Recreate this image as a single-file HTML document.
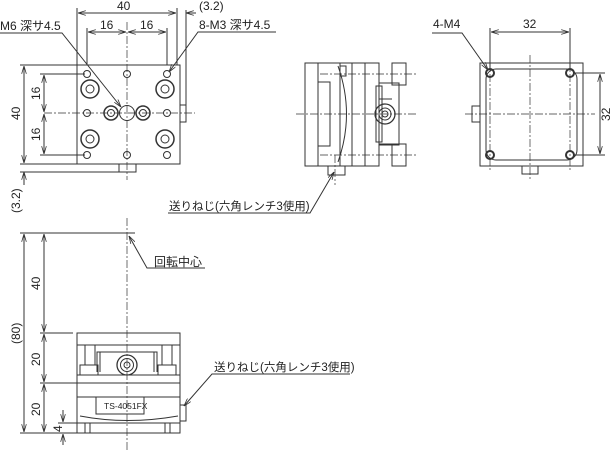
<!DOCTYPE html>
<html><head><meta charset="utf-8"><style>
html,body{margin:0;padding:0;background:#fff;width:616px;height:450px;overflow:hidden}
text{font-family:"Liberation Sans","Noto Sans CJK JP",sans-serif;fill:#222}
</style></head><body>
<svg width="616" height="450" viewBox="0 0 616 450" xmlns="http://www.w3.org/2000/svg">
<defs>
<marker id="a" viewBox="0 0 10 6" refX="10" refY="3" markerWidth="8" markerHeight="5" orient="auto-start-reverse"><path d="M0,0 L10,3 L0,6" fill="none" stroke="#333" stroke-width="1"/></marker>
</defs>
<g stroke="#333" stroke-width="1" fill="none">
<rect x="77" y="65" width="103" height="99"/>
<rect x="180" y="105" width="6" height="17"/>
<rect x="119" y="164" width="17" height="8"/>
<line x1="186" y1="10" x2="186" y2="105"/>
<line x1="177" y1="8" x2="177" y2="65"/>
<line x1="77" y1="8" x2="77" y2="65"/>
<line x1="78" y1="13" x2="176" y2="13" marker-start="url(#a)" marker-end="url(#a)"/>
<line x1="186" y1="13" x2="196" y2="13" marker-start="url(#a)"/>
<line x1="87" y1="28" x2="87" y2="65"/><line x1="167" y1="28" x2="167" y2="65"/>
<line x1="88" y1="32" x2="126" y2="32" marker-start="url(#a)" marker-end="url(#a)"/>
<line x1="128" y1="32" x2="166" y2="32" marker-start="url(#a)" marker-end="url(#a)"/>
<g>
<circle cx="87" cy="74" r="3.5"/><circle cx="127" cy="74" r="3.5"/><circle cx="167" cy="74" r="3.5"/>
<circle cx="87" cy="113" r="3.5"/><circle cx="167" cy="113" r="3.5"/>
<circle cx="87" cy="155" r="3.5"/><circle cx="127" cy="155" r="3.5"/><circle cx="167" cy="155" r="3.5"/>
<circle cx="90" cy="89" r="9" stroke-width="1.5"/><circle cx="90" cy="89" r="4"/>
<circle cx="165" cy="89" r="9" stroke-width="1.5"/><circle cx="165" cy="89" r="4"/>
<circle cx="90" cy="139" r="9" stroke-width="1.5"/><circle cx="90" cy="139" r="4"/>
<circle cx="165" cy="139" r="9" stroke-width="1.5"/><circle cx="165" cy="139" r="4"/>
<circle cx="111" cy="113" r="7" stroke-width="1.5"/><circle cx="111" cy="113" r="3.5"/>
<circle cx="143" cy="113" r="7" stroke-width="1.5"/><circle cx="143" cy="113" r="3.5"/>
<circle cx="127" cy="113" r="7.5"/>
</g>
<g stroke-dasharray="8,2,2,2" stroke-width="0.7">
<line x1="127" y1="22" x2="127" y2="180"/>
<line x1="44" y1="113" x2="195" y2="113"/>
</g>
<line x1="20" y1="65" x2="77" y2="65"/>
<line x1="20" y1="164" x2="77" y2="164"/>
<line x1="20" y1="172" x2="119" y2="172"/>
<line x1="40" y1="74" x2="85" y2="74"/><line x1="40" y1="155" x2="85" y2="155"/>
<line x1="24" y1="66" x2="24" y2="163" marker-start="url(#a)" marker-end="url(#a)"/>
<line x1="44" y1="75" x2="44" y2="112" marker-start="url(#a)" marker-end="url(#a)"/>
<line x1="44" y1="114" x2="44" y2="154" marker-start="url(#a)" marker-end="url(#a)"/>
<line x1="24" y1="172" x2="24" y2="185" marker-start="url(#a)"/>
<polyline points="0,33 62,33 121,107" marker-end="url(#a)"/>
<polyline points="276,32 198,32 169,72" marker-end="url(#a)"/>

<rect x="305" y="63" width="74" height="103"/>
<line x1="318" y1="63" x2="318" y2="166"/><line x1="340" y1="63" x2="340" y2="166"/>
<line x1="352" y1="63" x2="352" y2="166"/><line x1="365" y1="63" x2="365" y2="166"/>
<rect x="318" y="82" width="12" height="64"/>
<path d="M338,66 Q355,114 338,162"/>
<rect x="340" y="66" width="6" height="10"/>
<rect x="379" y="83" width="20" height="62"/>
<line x1="379" y1="99" x2="392" y2="99"/><line x1="379" y1="144" x2="392" y2="144"/>
<rect x="392" y="63" width="14" height="22"/><rect x="392" y="144" width="14" height="22"/>
<rect x="376" y="86" width="6" height="56"/>
<circle cx="385" cy="114" r="10" stroke-width="1.3"/><circle cx="385" cy="114" r="6"/><circle cx="385" cy="114" r="3"/>
<rect x="328" y="166" width="17" height="9"/>
<g stroke-dasharray="8,2,2,2" stroke-width="0.7">
<line x1="296" y1="114" x2="416" y2="114"/>
<line x1="320" y1="74" x2="416" y2="74"/><line x1="320" y1="155" x2="416" y2="155"/>
<line x1="335" y1="155" x2="335" y2="185"/>
</g>
<polyline points="168,213 310,213 334,172" marker-end="url(#a)"/>

<rect x="480" y="63" width="103" height="103"/>
<rect x="486" y="69" width="91" height="91" rx="10"/>
<rect x="472" y="106" width="8" height="16"/>
<rect x="522" y="166" width="16" height="8"/>
<circle cx="490" cy="73" r="4" stroke-width="2"/><circle cx="570" cy="73" r="4" stroke-width="2"/>
<circle cx="490" cy="155" r="4" stroke-width="2"/><circle cx="570" cy="155" r="4" stroke-width="2"/>
<line x1="490" y1="28" x2="490" y2="70"/><line x1="570" y1="28" x2="570" y2="70"/>
<line x1="491" y1="32" x2="569" y2="32" marker-start="url(#a)" marker-end="url(#a)"/>
<line x1="573" y1="73" x2="605" y2="73"/><line x1="573" y1="155" x2="605" y2="155"/>
<line x1="600" y1="74" x2="600" y2="154" marker-start="url(#a)" marker-end="url(#a)"/>
<polyline points="432,33 462,33 488,70" marker-end="url(#a)"/>
<g stroke-dasharray="8,2,2,2" stroke-width="0.7">
<line x1="530" y1="55" x2="530" y2="180"/>
<line x1="465" y1="114" x2="595" y2="114"/>
<line x1="490" y1="60" x2="490" y2="170"/><line x1="570" y1="60" x2="570" y2="170"/>
</g>

<line x1="127" y1="218" x2="127" y2="450" stroke-dasharray="8,2,2,2" stroke-width="0.7"/>
<line x1="20" y1="233" x2="135" y2="233"/>
<line x1="40" y1="333" x2="73" y2="333"/>
<line x1="40" y1="383" x2="77" y2="383"/>
<line x1="20" y1="433" x2="77" y2="433"/>
<line x1="58" y1="423" x2="77" y2="423"/>
<line x1="24" y1="234" x2="24" y2="432" marker-start="url(#a)" marker-end="url(#a)"/>
<line x1="44" y1="234" x2="44" y2="332" marker-start="url(#a)" marker-end="url(#a)"/>
<line x1="44" y1="334" x2="44" y2="382" marker-start="url(#a)" marker-end="url(#a)"/>
<line x1="44" y1="384" x2="44" y2="432" marker-start="url(#a)" marker-end="url(#a)"/>
<line x1="63" y1="410" x2="63" y2="422" marker-end="url(#a)"/>
<line x1="63" y1="445" x2="63" y2="434" marker-end="url(#a)"/>
<rect x="77" y="333" width="103" height="100"/>
<line x1="77" y1="345" x2="180" y2="345"/>
<rect x="85" y="345" width="10" height="20"/><rect x="162" y="345" width="10" height="20"/>
<path d="M97,372 V352 H157 V372"/>
<line x1="100" y1="352" x2="100" y2="372"/><line x1="154" y1="352" x2="154" y2="372"/>
<rect x="80" y="365" width="18" height="10"/><rect x="158" y="365" width="18" height="10"/>
<line x1="77" y1="375" x2="180" y2="375"/>
<line x1="77" y1="383" x2="180" y2="383"/>
<line x1="77" y1="397" x2="180" y2="397"/>
<rect x="96" y="397" width="48" height="17"/>
<path d="M80,416 Q127,425 178,416"/>
<line x1="77" y1="423" x2="180" y2="423"/>
<line x1="85" y1="423" x2="85" y2="433"/><line x1="90" y1="423" x2="90" y2="433"/>
<line x1="165" y1="423" x2="165" y2="433"/><line x1="170" y1="423" x2="170" y2="433"/>
<circle cx="127" cy="365" r="10" stroke-width="1.3"/><circle cx="127" cy="365" r="6.5"/><circle cx="127" cy="365" r="3"/>
<rect x="180" y="405" width="6" height="16"/>
<polyline points="205,268 147,268 129,236" marker-end="url(#a)"/>
<polyline points="350,374 212,374 184,406" marker-end="url(#a)"/>
</g>
<g font-size="12">
<text x="117" y="10">40</text>
<text x="199" y="10">(3.2)</text>
<text x="100" y="29">16</text>
<text x="140" y="29">16</text>
<text x="0" y="30">M6 深サ4.5</text>
<text x="199" y="29">8-M3 深サ4.5</text>
<text transform="translate(20,120) rotate(-90)">40</text>
<text transform="translate(40,100) rotate(-90)">16</text>
<text transform="translate(40,141) rotate(-90)">16</text>
<text transform="translate(20,213) rotate(-90)">(3.2)</text>
<text x="169" y="210" font-size="11.5">送りねじ(六角レンチ3使用)</text>
<text x="433" y="28">4-M4</text>
<text x="523" y="28">32</text>
<text transform="translate(610,121) rotate(-90)">32</text>
<text x="154" y="266">回転中心</text>
<text x="214" y="371" font-size="11.5">送りねじ(六角レンチ3使用)</text>
<text transform="translate(20,344) rotate(-90)">(80)</text>
<text transform="translate(40,290) rotate(-90)">40</text>
<text transform="translate(40,366) rotate(-90)">20</text>
<text transform="translate(40,416) rotate(-90)">20</text>
<text transform="translate(62,432) rotate(-90)">4</text>
<text x="104" y="409" font-size="8.5">TS-4051FX</text>
</g>
</svg>
</body></html>
